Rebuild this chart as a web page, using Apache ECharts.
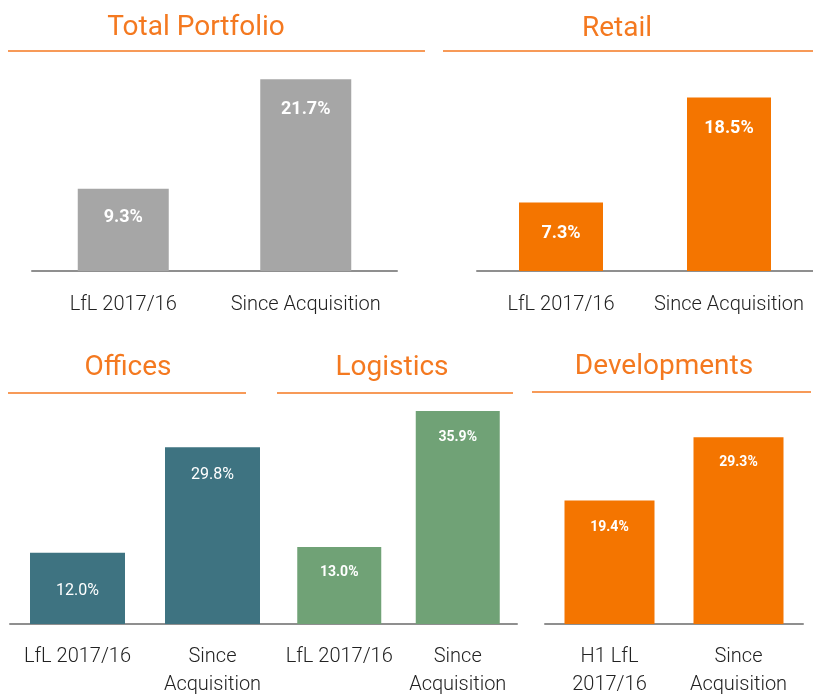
<!DOCTYPE html>
<html>
<head>
<meta charset="utf-8">
<script src="https://cdn.jsdelivr.net/npm/echarts@6/dist/echarts.min.js"></script>
<style>
html,body{margin:0;padding:0;background:#fff;}
#c{width:813px;height:694px;}
</style>
</head>
<body>
<div id="c"></div>
<script>
// ---- data ----
const titles = ['Total Portfolio', 'Retail', 'Offices', 'Logistics', 'Developments'];
const catsTotal = ['LfL 2017/16', 'Since Acquisition'];
const catsRetail = ['LfL 2017/16', 'Since Acquisition'];
const catsOffices = ['LfL 2017/16', 'Since\nAcquisition'];
const catsLogistics = ['LfL 2017/16', 'Since\nAcquisition'];
const catsDevelopments = ['H1 LfL\n2017/16', 'Since\nAcquisition'];
const totalPortfolio = [9.3, 21.7];
const retail = [7.3, 18.5];
const offices = [12.0, 29.8];
const logistics = [13.0, 35.9];
const developments = [19.4, 29.3];

// ---- layout / style ----
const ORANGE = '#f47920';
const panels = [
  {cats: catsTotal, vals: totalPortfolio, color: '#a6a6a6', left: 32, width: 365, axisY: 271, max: 25, scale: 8.84, barW: 91,
   title: {cx: 196, cy: 28}, line: [8, 425, 51], lbl: {size: 18, weight: 'bold', dist: [20, 21]}},
  {cats: catsRetail, vals: retail, color: '#f47500', left: 477, width: 336, axisY: 271, max: 20, scale: 9.38, barW: 84,
   title: {cx: 617, cy: 29}, line: [443, 813, 51], lbl: {size: 18, weight: 'bold', dist: [22, 22]}},
  {cats: catsOffices, vals: offices, color: '#3e7381', left: 10, width: 270, axisY: 624, max: 40, scale: 5.93, barW: 95,
   title: {cx: 128, cy: 368}, line: [8, 246, 393], lbl: {size: 16, weight: 'normal', dist: [30, 20]}},
  {cats: catsLogistics, vals: logistics, color: '#70a276', left: 280, width: 237, axisY: 624, max: 40, scale: 5.93, barW: 84,
   title: {cx: 392, cy: 368}, line: [277, 513, 393], lbl: {size: 14, weight: 'bold', dist: [19, 19]}},
  {cats: catsDevelopments, vals: developments, color: '#f47500', left: 545, width: 258, axisY: 624, max: 35, scale: 6.37, barW: 90,
   title: {cx: 664, cy: 367}, line: [532, 811, 392], lbl: {size: 14, weight: 'bold', dist: [20, 18]}}
];

const grid = [], xAxis = [], yAxis = [], series = [], title = [], graphic = [];
panels.forEach((p, i) => {
  const h = p.max * p.scale;
  grid.push({left: p.left, width: p.width, top: p.axisY - h, height: h, containLabel: false, outerBoundsMode: 'none'});
  const multi = p.cats.some(c => c.indexOf('\n') >= 0);
  xAxis.push({
    type: 'category', gridIndex: i, data: p.cats,
    axisLine: {show: true, lineStyle: {color: '#8f8f8f', width: 2}},
    axisTick: {show: false},
    axisLabel: {color: '#222', fontFamily: 'Roboto', fontWeight: 300, fontSize: 20,
      margin: multi ? 19 : 20, lineHeight: 28, interval: 0}
  });
  yAxis.push({type: 'value', gridIndex: i, min: 0, max: p.max, show: false, splitLine: {show: false}});
  series.push({
    type: 'bar', xAxisIndex: i, yAxisIndex: i, barWidth: p.barW,
    itemStyle: {color: p.color},
    data: p.vals.map((v, j) => ({
      value: v,
      label: {
        show: true, position: 'insideTop', distance: p.lbl.dist[j],
        color: '#fff', fontFamily: 'Roboto', fontSize: p.lbl.size, fontWeight: p.lbl.weight,
        formatter: (d) => d.value.toFixed(1) + '%'
      }
    })),
    silent: true, animation: false
  });
  title.push({
    text: titles[i], left: p.title.cx, top: p.title.cy - 16, padding: 0, textAlign: 'center',
    textStyle: {color: ORANGE, fontFamily: 'Roboto', fontWeight: 'normal', fontSize: 28, lineHeight: 32}
  });
  graphic.push({
    type: 'line', shape: {x1: p.line[0], y1: p.line[2], x2: p.line[1], y2: p.line[2]},
    style: {stroke: ORANGE, lineWidth: 1.5}, silent: true
  });
});

const chart = echarts.init(document.getElementById('c'), null, {renderer: 'canvas'});
chart.setOption({
  backgroundColor: '#fff',
  animation: false,
  title, grid, xAxis, yAxis, series, graphic
});
</script>
</body>
</html>
